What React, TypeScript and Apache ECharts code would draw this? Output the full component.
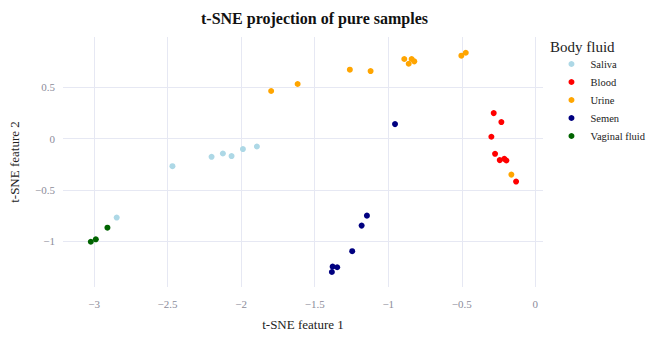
import React, { useEffect, useRef } from "react";
import * as echarts from "echarts";

const seriesNames = ["Saliva", "Blood", "Urine", "Semen", "Vaginal fluid"];
const seriesColors = ["lightblue", "red", "orange", "navy", "darkgreen"];

const saliva: [number, number][] = [
  [-2.467, -0.269], [-2.201, -0.178], [-2.124, -0.146], [-2.065, -0.171],
  [-1.988, -0.103], [-1.893, -0.078], [-2.846, -0.769],
];
const blood: [number, number][] = [
  [-0.283, 0.247], [-0.231, 0.16], [-0.299, 0.017], [-0.274, -0.149],
  [-0.242, -0.21], [-0.211, -0.198], [-0.197, -0.214], [-0.131, -0.419],
];
const urine: [number, number][] = [
  [-1.796, 0.462], [-1.616, 0.53], [-1.261, 0.669], [-1.12, 0.656],
  [-0.891, 0.773], [-0.861, 0.727], [-0.841, 0.773], [-0.823, 0.75],
  [-0.503, 0.805], [-0.473, 0.834], [-0.163, -0.351],
];
const semen: [number, number][] = [
  [-0.954, 0.14], [-1.145, -0.75], [-1.181, -0.847], [-1.245, -1.096],
  [-1.378, -1.246], [-1.347, -1.252], [-1.383, -1.298],
];
const vaginal: [number, number][] = [
  [-3.022, -1.004], [-2.988, -0.98], [-2.909, -0.867],
];
const seriesData = [saliva, blood, urine, semen, vaginal];

const FONT = "'Liberation Serif', 'Times New Roman', serif";

const fmt = (v: number) => {
  const r = Math.round(v * 2) / 2;
  if (Math.abs(v - r) > 1e-6) return "";
  return (r < 0 ? "\u2212" : "") + String(Math.abs(r));
};

export default function App() {
  const ref = useRef<HTMLDivElement>(null);
  useEffect(() => {
    if (!ref.current) return;
    const chart = echarts.init(ref.current, null, { renderer: "svg" });
    const axisCommon = {
      type: "value" as const,
      axisLine: { show: false },
      axisTick: { show: false },
      splitLine: {
        show: true,
        showMinLine: false,
        showMaxLine: false,
        lineStyle: { color: "#e6e8f3", width: 1 },
      },
      axisLabel: {
        color: "#8c8c9a",
        fontFamily: FONT,
        fontSize: 11,
        showMinLabel: false,
        showMaxLabel: false,
        formatter: fmt,
      },
      nameLocation: "middle" as const,
      nameTextStyle: { color: "#222", fontFamily: FONT, fontSize: 13 },
    };
    chart.setOption({
      animation: false,
      backgroundColor: "#fff",
      title: [
        {
          text: "t-SNE projection of pure samples",
          left: 201,
          top: 10,
          padding: 0,
          textStyle: { fontFamily: FONT, fontSize: 16, fontWeight: "bold", color: "#111" },
        },
        {
          text: "Body fluid",
          left: 550,
          top: 39,
          padding: 0,
          textStyle: { fontFamily: FONT, fontSize: 15, fontWeight: "normal", color: "#222" },
        },
      ],
      legend: {
        orient: "vertical",
        right: 1,
        top: 58,
        padding: 0,
        itemWidth: 6,
        itemHeight: 6,
        itemGap: 6,
        icon: "circle",
        align: "left",
        data: seriesNames,
        textStyle: {
          fontFamily: FONT,
          fontSize: 10.5,
          color: "#222",
          lineHeight: 12,
          padding: [0, 0, 0, 11],
        },
      },
      grid: { left: 63, right: 103, top: 37, bottom: 52, containLabel: false },
      xAxis: {
        ...axisCommon,
        min: -3.211,
        max: 0.052,
        splitNumber: 7,
        name: "t-SNE feature 1",
        nameGap: 31,
        axisLabel: { ...axisCommon.axisLabel, margin: 11 },
      },
      yAxis: {
        ...axisCommon,
        min: -1.444,
        max: 0.987,
        splitNumber: 5,
        name: "t-SNE feature 2",
        nameGap: 42,
        axisLabel: { ...axisCommon.axisLabel, margin: 8 },
      },
      series: seriesNames.map((name, i) => ({
        name,
        type: "scatter",
        data: seriesData[i],
        symbol: "circle",
        symbolSize: 6,
        itemStyle: { color: seriesColors[i], opacity: 1 },
        emphasis: { disabled: true },
      })),
    });
    return () => chart.dispose();
  }, []);
  return (
    <div
      ref={ref}
      style={{ position: "fixed", left: 0, top: 0, width: 646, height: 339 }}
    />
  );
}
